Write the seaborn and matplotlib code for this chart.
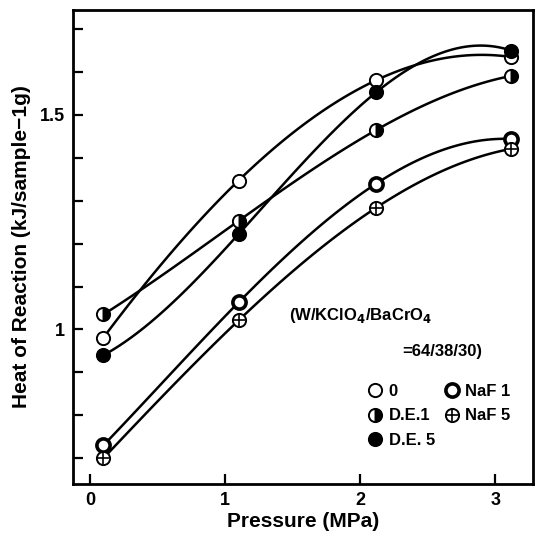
import matplotlib
matplotlib.use("Agg")
import matplotlib.pyplot as plt
from matplotlib.lines import Line2D
import seaborn as sns

# values (pressure in MPa, heat in kJ per 1 g sample)
pressure = [0.1, 1.1, 2.12, 3.12]
heat_0 = [0.981, 1.347, 1.581, 1.635]
heat_de1 = [1.035, 1.253, 1.465, 1.591]
heat_de5 = [0.940, 1.222, 1.553, 1.650]
heat_naf1 = [0.730, 1.063, 1.340, 1.444]
heat_naf5 = [0.700, 1.021, 1.284, 1.421]
series_labels = ["0", "D.E.1", "D.E. 5", "NaF 1", "NaF 5"]
x_ticks = [0, 1, 2, 3]
y_ticks = [0.7, 0.8, 0.9, 1.0, 1.1, 1.2, 1.3, 1.4, 1.5, 1.6, 1.7]
y_ticklabels = ["", "", "", "1", "", "", "", "", "1.5", "", ""]

sns.set_style("ticks")
plt.rcParams["font.family"] = ["Liberation Sans", "DejaVu Sans"]
plt.rcParams["font.weight"] = "bold"
plt.rcParams["text.color"] = "black"
plt.rcParams["axes.labelcolor"] = "black"
plt.rcParams["xtick.color"] = "black"
plt.rcParams["ytick.color"] = "black"
plt.rcParams["axes.edgecolor"] = "black"

fig = plt.figure(figsize=(5.4, 5.45), dpi=100)
ax = fig.add_axes([0.135, 0.112, 0.852, 0.870])

all_series = [heat_0, heat_de1, heat_de5, heat_naf1, heat_naf5]
marker_styles = [
    dict(marker="o", mfc="white", mec="black", mew=1.4, ms=9.5),
    dict(marker="o", mfc="black", mec="black", mew=1.4, ms=9.5,
         fillstyle="right", markerfacecoloralt="white"),
    dict(marker="o", mfc="black", mec="black", mew=1.4, ms=9.5),
    dict(marker="o", mfc="white", mec="black", mew=2.6, ms=9.5),
    dict(marker="o", mfc="white", mec="black", mew=1.4, ms=9.5),
]

# smooth curves through the points
for vals in all_series:
    sns.regplot(x=pressure, y=vals, order=3, ci=None, scatter=False,
                truncate=True, ax=ax,
                line_kws=dict(color="black", lw=1.8, zorder=2))

for vals, st in zip(all_series, marker_styles):
    sns.lineplot(x=pressure, y=vals, ax=ax, ls="none", color="black",
                 zorder=3, **st)
# cross inside the NaF 5 circles
sns.lineplot(x=pressure, y=heat_naf5, ax=ax, ls="none", color="black",
             marker="+", ms=8, mew=1.2, mec="black", zorder=4)

ax.set_xlim(-0.126, 3.28)
ax.set_ylim(0.64, 1.745)
ax.set_xticks(x_ticks)
ax.set_xticklabels([str(t) for t in x_ticks], fontsize=13, fontweight="bold")
ax.set_yticks(y_ticks)
ax.set_yticklabels(y_ticklabels, fontsize=13, fontweight="bold")
ax.tick_params(direction="in", length=7, width=1.6, pad=6)
for sp in ax.spines.values():
    sp.set_linewidth(2)
    sp.set_visible(True)

ax.set_xlabel("Pressure (MPa)", fontsize=15, fontweight="bold", labelpad=2)
ax.set_ylabel("Heat of Reaction (kJ/sample\u22121g)", fontsize=15,
              fontweight="bold", labelpad=6)

# composition note and legend
ax.text(0.47, 0.355, "(W/KClO$_\\mathbf{4}$/BaCrO$_\\mathbf{4}$",
        transform=ax.transAxes, fontsize=12, fontweight="bold",
        va="center", ha="left")
ax.text(0.715, 0.28, "=64/38/30)", transform=ax.transAxes, fontsize=12,
        fontweight="bold", va="center", ha="left")

handles = []
for st in marker_styles:
    handles.append(Line2D([], [], ls="none", color="black", **st))
plus = Line2D([], [], ls="none", color="black", marker="+", ms=8, mew=1.2)
handles[4] = (handles[4], plus)
ax.legend(handles, series_labels, ncol=2, frameon=False, loc="upper left",
          bbox_to_anchor=(0.625, 0.228), prop=dict(size=12, weight="bold"),
          borderpad=0, handlelength=0.8, handletextpad=0.4,
          labelspacing=0.55, columnspacing=0.6)

fig.savefig("out.png", dpi=100)
